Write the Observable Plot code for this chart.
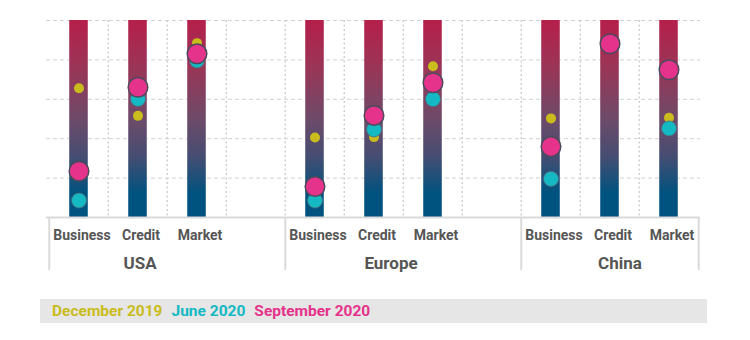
<!DOCTYPE html>
<html><head><meta charset="utf-8">
<script src="https://cdn.jsdelivr.net/npm/d3@7"></script>
<script src="https://cdn.jsdelivr.net/npm/@observablehq/plot@0.6"></script>
<style>
body{margin:0;background:#fff;font-family:Roboto,sans-serif;}
#chart{position:absolute;left:0;top:0;}
#legend{position:absolute;left:40px;top:299px;width:667px;height:24px;background:#e6e6e6;box-sizing:border-box;padding-left:12px;font:bold 15.5px Roboto,sans-serif;line-height:24px;white-space:nowrap;}
#legend span{margin-right:9px}
</style></head><body><div id="chart"></div><div id="legend"></div>
<script>
const groups = ["USA", "Europe", "China"];
const categories = ["Business", "Credit", "Market"];
const seriesNames = ["December 2019", "June 2020", "September 2020"];
// values in order: USA B,C,M / Europe B,C,M / China B,C,M
const dec2019 = [65.6, 51.6, 88.5, 40.6, 40.8, 76.8, 50.3, null, 50.6];
const jun2020 = [8.6, 60.2, 79.7, 8.6, 44.7, 60.1, 19.6, null, 45.2];
const sep2020 = [23.5, 66.1, 83.1, 15.7, 51.8, 68.4, 36.0, 88.2, 75.0];
const yTicks = [0, 20, 40, 60, 80, 100];

const colors = {"December 2019": "#c9bc1c", "June 2020": "#14b9c3", "September 2020": "#e5338b"};

// slots: each group's categories, with an empty slot between groups
const slots = [];
groups.forEach((g, gi) => {
  categories.forEach(c => slots.push(g + "|" + c));
  if (gi < groups.length - 1) slots.push(g + "|");
});
const cells = [];
groups.forEach((g, gi) => categories.forEach((c, ci) => cells.push({group: g, cat: c, key: g + "|" + c, i: gi * 3 + ci})));

const series = [
  {name: "December 2019", vals: dec2019, r: 5, stroke: "none", sw: 0},
  {name: "June 2020", vals: jun2020, r: 7.5, stroke: "#4f6b78", sw: 0.8},
  {name: "September 2020", vals: sep2020, r: 9.8, stroke: "#4d4a5c", sw: 1.5}
];

const W = 750, H = 280, mL = 46, mR = 50, mT = 20, mB = 63;
const bw = (W - mL - mR) / slots.length;
const barInset = (bw - 19) / 2;

const interior = slots.slice(1);
const groupStarts = groups.map(g => g + "|" + categories[0]);
const groupLabelShift = [2, 17, 10];

const marks = [
  Plot.ruleY(yTicks.filter(v => v > 0), {y: d => d, stroke: "#d2d2d2", strokeDasharray: "4,3"}),
  Plot.ruleX(interior, {x: d => d, dx: -bw / 2, stroke: "#cfcfcf", strokeWidth: 1.5, strokeDasharray: "2,2.5"}),
  Plot.barY(cells, {x: "key", y1: 0, y2: yTicks[yTicks.length - 1], fill: "url(#barGrad)", insetLeft: barInset, insetRight: barInset}),
  Plot.ruleY([0], {stroke: "#dadada", strokeWidth: 2}),
  Plot.ruleX(groupStarts, {x: d => d, dx: -bw / 2, stroke: "#dadada", strokeWidth: 2, insetTop: H - mT - mB, insetBottom: -53}),
  Plot.ruleX([slots[slots.length - 1]], {x: d => d, dx: bw / 2, stroke: "#dadada", strokeWidth: 2, insetTop: H - mT - mB, insetBottom: -53}),
  Plot.text(cells, {x: "key", text: "cat", frameAnchor: "bottom", dy: 22, dx: 3, fontSize: 14, fontWeight: "bold", fill: "#555"}),
  ...groups.map((g, gi) => Plot.text([g], {x: d => d + "|" + categories[1], text: d => d, frameAnchor: "bottom", dy: 51, dx: groupLabelShift[gi], fontSize: 17, fontWeight: "bold", fill: "#555"}))
];
series.forEach(s => {
  const data = cells.map(c => ({key: c.key, v: s.vals[c.i]})).filter(d => d.v != null);
  marks.push(Plot.dot(data, {x: "key", y: "v", r: s.r, fill: colors[s.name], stroke: s.stroke, strokeWidth: s.sw}));
});

const svg = Plot.plot({
  width: W, height: H,
  marginLeft: mL, marginRight: mR, marginTop: mT, marginBottom: mB,
  style: {fontFamily: "Roboto, sans-serif", background: "white"},
  x: {type: "band", domain: slots, padding: 0, axis: null},
  y: {domain: [0, 100], axis: null},
  marks
});

const defs = d3.select(svg).insert("defs", ":first-child");
const grad = defs.append("linearGradient").attr("id", "barGrad").attr("x1", 0).attr("y1", 0).attr("x2", 0).attr("y2", 1);
[[0, "#b51f4b"], [0.25, "#993657"], [0.5, "#6e4a69"], [0.7, "#434d72"], [0.88, "#00527f"], [1, "#00527f"]].forEach(([o, c]) =>
  grad.append("stop").attr("offset", o).attr("stop-color", c));

document.getElementById("chart").appendChild(svg);
const legend = document.getElementById("legend");
seriesNames.forEach(n => {
  const s = document.createElement("span");
  s.textContent = n;
  s.style.color = colors[n];
  legend.appendChild(s);
});
</script></body></html>
